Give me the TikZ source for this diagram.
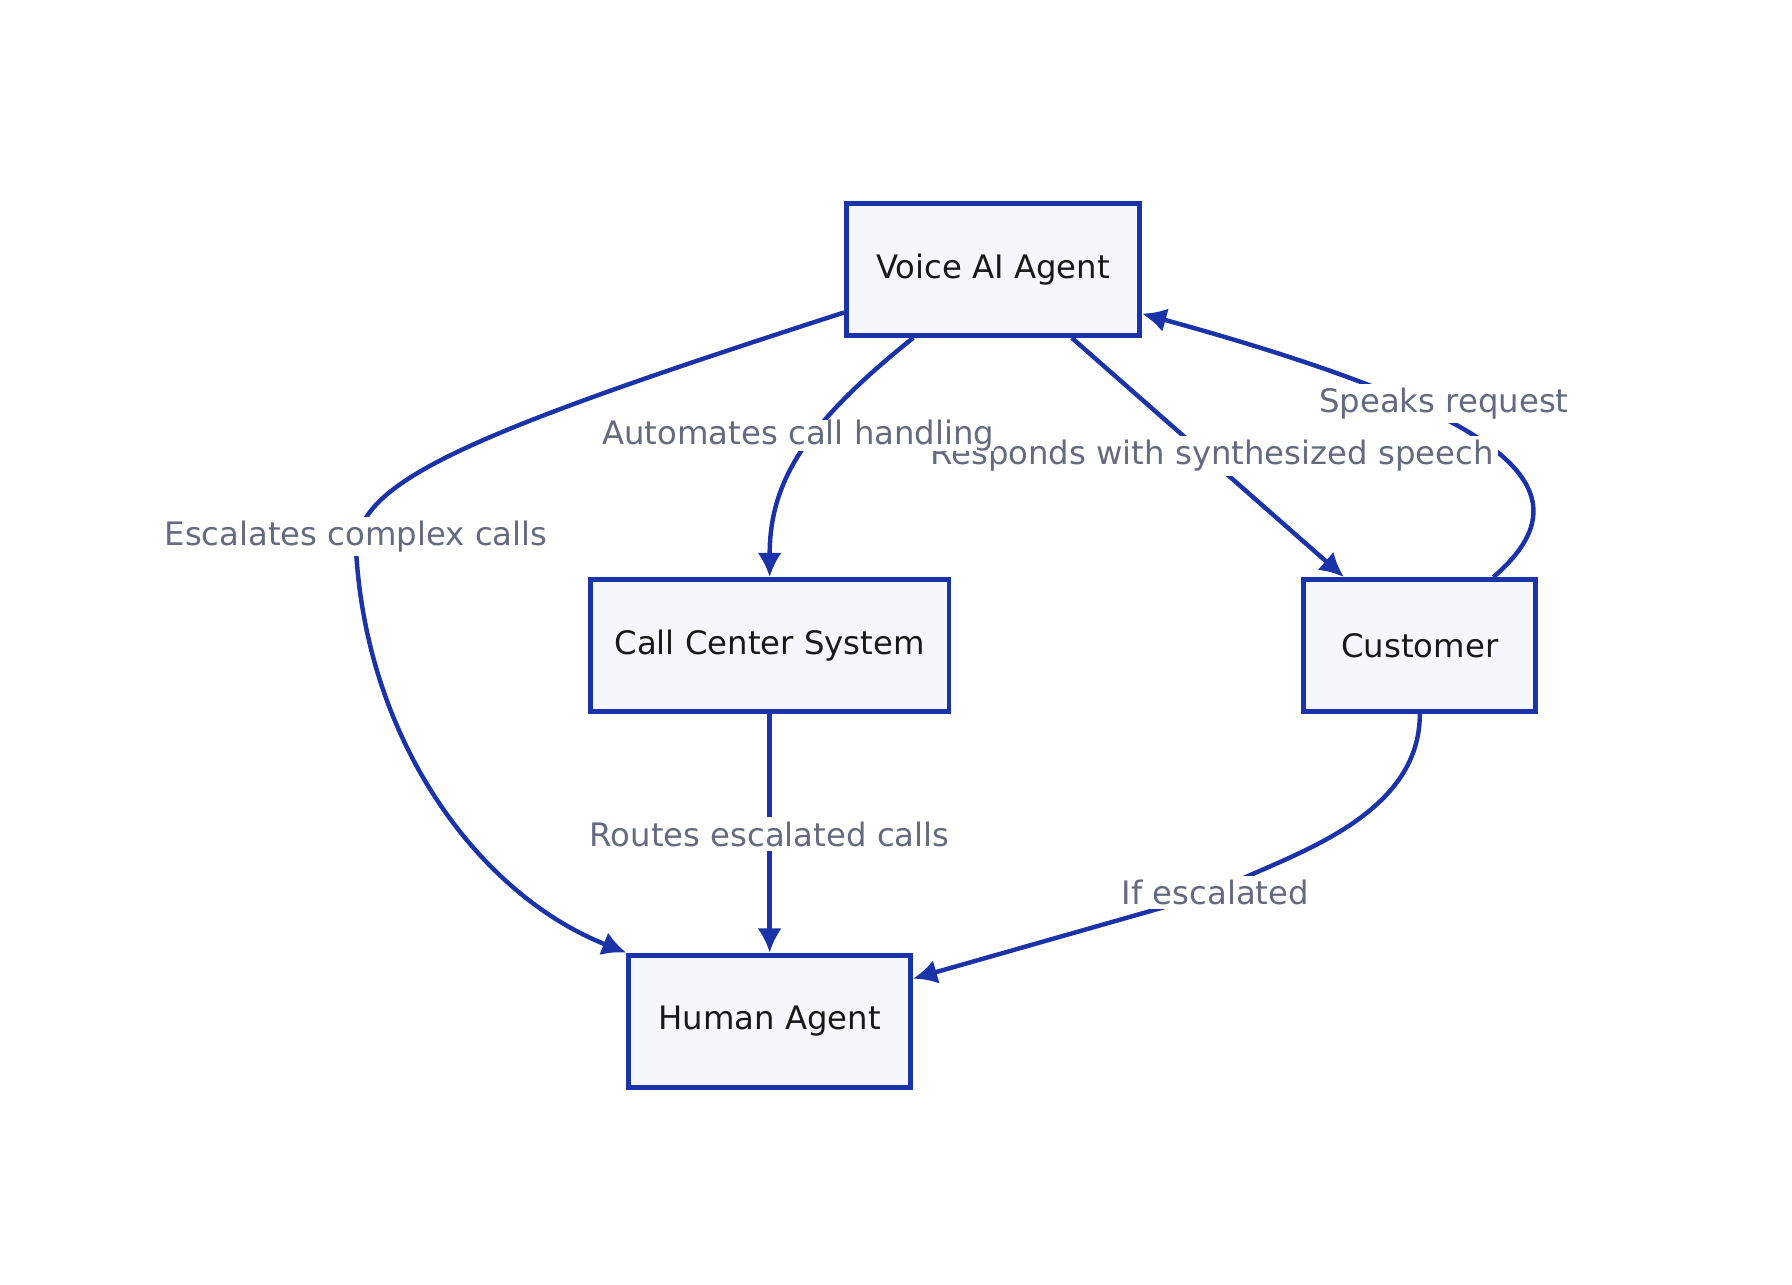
\documentclass[tikz,border=0pt]{standalone}
\usepackage{fontspec}
\setmainfont{DejaVu Sans}
\usetikzlibrary{arrows.meta, positioning}
\definecolor{edgeblue}{HTML}{1A33A8}
\definecolor{boxfill}{HTML}{F5F7FC}
\definecolor{labelgray}{HTML}{666A80}
\begin{document}
\begin{tikzpicture}[x=0.01cm, y=-0.01cm,
    font=\fontsize{8}{10}\selectfont,
    block/.style={rectangle, draw=edgeblue, fill=boxfill, line width=1.2pt, minimum height=1.15cm, text=black!90},
    line/.style={draw=edgeblue, line width=1.1pt, -{Latex[length=6pt, width=6pt]}},
    tag/.style={fill=white, text=labelgray, inner sep=1pt}
]
    \useasboundingbox (0,0) rectangle (1560,1118);

    % Nodes
    \node [block, minimum width=2.55cm] (voice) at (864.5,234.5) {Voice AI Agent};
    \node [block, minimum width=3.12cm] (call) at (670,562) {Call Center System};
    \node [block, minimum width=2.02cm] (cust) at (1236,562) {Customer};
    \node [block, minimum width=2.45cm] (human) at (670,889) {Human Agent};

    % Connections
    \path [line] ([yshift=-0.375cm]voice.west) .. controls (400,380) and (310,420) .. (310,480)
        .. controls (320,650) and (420,780) .. (human.north west);
    \path [line] ([xshift=-0.695cm]voice.south) .. controls (700,370) and (670,420) .. (call.north);
    \path [line] ([xshift=0.685cm]voice.south) -- ([xshift=-0.66cm]cust.north);
    \path [line] ([xshift=0.64cm]cust.north) .. controls (1390,425) and (1310,360) .. ([yshift=-0.385cm]voice.east);
    \path [line] (call) -- (human);
    \path [line] (cust.south) .. controls (1236,720) and (1100,750) .. (1058,777) -- ([yshift=0.37cm]human.east);

    % Labels
    \node [tag] (l1) at (310,467) {Escalates complex calls};
    \node [tag] (l3) at (1055,397) {Responds with synthesized speech};
    \node [tag, inner sep=0pt] (l2) at (695,379) {Automates call handling};
    \node [tag] (l4) at (1257,351) {Speaks request};
    \node [tag] (l5) at (670,726) {Routes escalated calls};
    \node [tag] (l6) at (1058,777) {If escalated};
\end{tikzpicture}
\end{document}
